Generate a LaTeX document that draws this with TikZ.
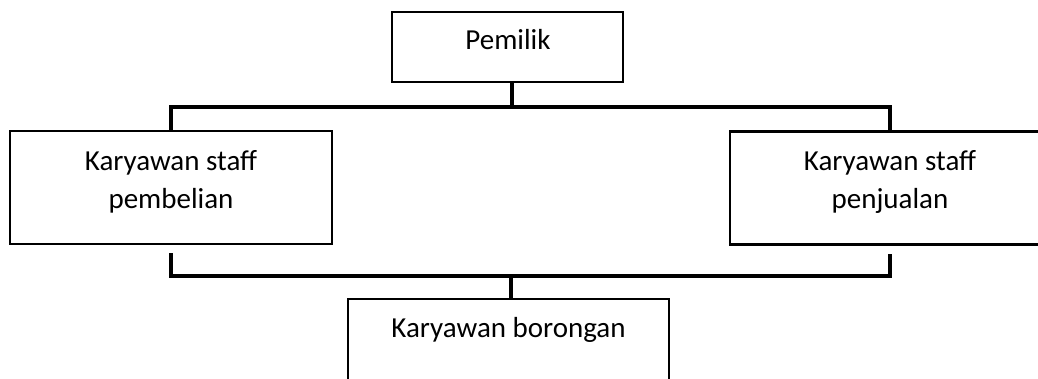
\documentclass[tikz,border=0pt]{standalone}
\usepackage{fontspec}
\setmainfont{Carlito}
\begin{document}
\begin{tikzpicture}[x=1pt,y=-1pt,
  box/.style={draw=black, line width=2.3pt, rectangle, inner sep=0pt},
  conn/.style={draw=black, line width=3.8pt},
  txt/.style={font=\fontsize{29}{37}\selectfont, inner sep=0pt, align=center}]
\useasboundingbox (0,0) rectangle (1038,379);
\clip (0,0) rectangle (1038,379);

% boxes
\node[box, minimum width=231pt, minimum height=70pt] (pemilik) at (507.5,47) {};
\node[box, minimum width=322pt, minimum height=113pt] (beli) at (171,187.5) {};
\node[box, minimum width=320pt, minimum height=113pt] (jual) at (890,188) {};
\node[box, minimum width=321pt, minimum height=113pt] (boro) at (508.5,355.5) {};

% labels
\node[txt, anchor=base] (tpemilik) at (508,50) {Pemilik};
\node[txt, anchor=base] (tbeli1) at (171,171) {Karyawan staff};
\node[txt, anchor=base] (tbeli2) at (171,209) {pembelian};
\node[txt, anchor=base] (tjual1) at (890,171) {Karyawan staff};
\node[txt, anchor=base] (tjual2) at (890,209) {penjualan};
\node[txt, anchor=base] (tboro) at (508.5,337) {Karyawan borongan};

% upper bus
\coordinate (topbus) at (512,107);
\draw[conn] (pemilik.south -| topbus) -- (topbus);
\draw[conn] (beli.north) |- (topbus) -| (jual.north);

% lower bus
\coordinate (botbus) at (511,276);
\coordinate (belidrop) at ([yshift=-8pt]beli.south);
\coordinate (jualdrop) at ([yshift=-8pt]jual.south);
\draw[conn] (belidrop) |- (botbus) -| (jualdrop);
\draw[conn] (botbus) -- (botbus |- boro.north);
\end{tikzpicture}
\end{document}
